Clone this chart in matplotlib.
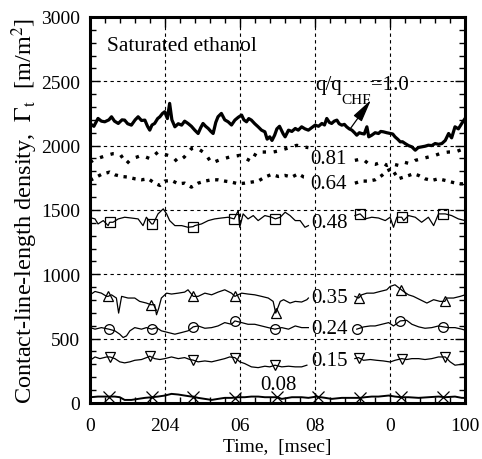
import numpy as np
import matplotlib
matplotlib.use("Agg")
import matplotlib.pyplot as plt
from matplotlib.ticker import MultipleLocator

plt.rcParams['font.family'] = ['Liberation Serif', 'DejaVu Serif']
plt.rcParams['mathtext.fontset'] = 'stix'

# ---- data (time in msec, contact-line-length density in m/m^2) ----
t_100 = [0, 1, 2.1, 3, 3.9, 5, 5.7, 6.5, 7.5, 8.5, 9.2, 10, 11, 12, 12.8, 13.7, 14.6, 15.3, 15.9,
         16.5, 17.2, 18, 18.6, 19.3, 19.9, 20.6, 21.2, 21.8, 22.6, 23.5, 24.4, 25.2, 26.1, 27,
         27.9, 28.8, 29.5, 30.1, 30.8, 31.5, 32.2, 32.8, 33.5, 34.1, 35, 35.9, 36.8, 37.7, 38.6,
         39.5, 40.4, 41, 41.7, 42.3, 43, 43.9, 44.8, 45.7, 46.6, 47.2, 47.9, 48.5, 49.2, 49.8,
         50.5, 51.5, 52, 52.9, 53.8, 54.7, 55.5, 56.4, 57.3, 58.2, 59.1, 60, 60.9, 61.8, 62.5,
         63.1, 63.8, 64.4, 65.1, 65.8, 66.4, 67.1, 67.8, 68.4, 69.1, 69.8, 70.5, 71.1, 71.8,
         72.4, 73.1, 73.8, 74.3, 75.1, 76, 76.9, 77.5, 78.2, 79.1, 80, 80.7, 81.3, 82, 82.7,
         83.3, 84, 84.9, 85.8, 86.7, 87.5, 88.4, 89.3, 90.2, 91.1, 92, 92.9, 93.8, 94.7, 95.6,
         96.4, 97.3, 98.2, 99.1, 100]
g_100 = [2170, 2150, 2211, 2190, 2185, 2200, 2224, 2190, 2172, 2200, 2198, 2170, 2159, 2200, 2224,
         2195, 2198, 2150, 2120, 2160, 2172, 2210, 2224, 2250, 2263, 2210, 2328, 2200, 2146, 2170,
         2159, 2190, 2172, 2150, 2120, 2094, 2140, 2172, 2150, 2133, 2110, 2094, 2180, 2224, 2250,
         2200, 2185, 2160, 2198, 2220, 2237, 2200, 2185, 2210, 2198, 2170, 2146, 2120, 2107, 2050,
         2068, 2040, 2081, 2130, 2150, 2090, 2068, 2120, 2110, 2133, 2120, 2146, 2130, 2120, 2140,
         2159, 2150, 2172, 2160, 2211, 2180, 2172, 2190, 2198, 2170, 2159, 2165, 2146, 2130, 2120,
         2100, 2081, 2100, 2094, 2090, 2146, 2068, 2081, 2100, 2094, 2110, 2107, 2100, 2094, 2090,
         2068, 2050, 2029, 2030, 2016, 2000, 1990, 1964, 1985, 1990, 1995, 2003, 2000, 2016, 2010,
         2016, 2040, 2094, 2060, 2146, 2130, 2172, 2211]

t_81 = [0, 0.8, 2.5, 4.4, 6.1, 7.9, 9.7, 11, 12.4, 13.7, 16, 18.1, 19.9, 22.1, 23.3, 25.1, 27,
        28.4, 30.1, 31, 32.4, 34.6, 37.2, 39.9, 43, 44.4, 46.6, 48.8, 50.2, 53.8, 55.1, 56.9,
        58.2, 63, 70.6, 72.6, 74.2, 76, 77.8, 79.1, 80.4, 82.2, 83.6, 85.3, 86.7, 88.4, 90.2,
        92, 93.8, 95.6, 97.3, 99.1, 100]
g_81 = [1870, 1886, 1905, 1924, 1937, 1937, 1859, 1898, 1910, 1924, 1898, 1950, 1932, 1911, 1872,
        1911, 1976, 1984, 1950, 1924, 1864, 1890, 1911, 1924, 1877, 1950, 1950, 1950, 1958, 1990,
        2002, 1990, 1984, np.nan, 1885, 1898, 1859, 1854, 1872, 1846, 1859, 1846, 1872, 1859, 1885,
        1898, 1911, 1924, 1943, 1950, 1950, 1969, 1976]

t_64 = [0, 0.8, 3, 5.2, 6.6, 8.4, 10.1, 11.9, 13.7, 15.5, 17.2, 18.6, 19.9, 21.7, 23.5, 25.2, 27,
        28.8, 30.6, 32.4, 34.1, 35.9, 37.7, 39.5, 41.2, 43, 44.8, 46.6, 48.4, 50.2, 52, 53.8,
        55.5, 57, 58.3, 63, 70.6, 72.4, 74.2, 76, 77.8, 79.1, 80.4, 82.2, 83.6, 85, 86.2, 87.6,
        89.3, 91.1, 92.9, 94.7, 96.4, 98.2, 100]
g_64 = [1730, 1742, 1776, 1794, 1773, 1760, 1755, 1742, 1734, 1742, 1708, 1690, 1724, 1729, 1703,
        1708, 1677, 1708, 1724, 1734, 1734, 1724, 1716, 1703, 1708, 1716, 1724, 1755, 1776, 1760,
        1768, 1755, 1781, 1755, 1750, np.nan, 1708, 1724, 1724, 1734, 1768, 1802, 1820, 1742, 1755,
        1768, 1781, 1768, 1742, 1729, 1742, 1729, 1716, 1703, 1703]

t_48 = [0, 1.3, 2.1, 3.5, 4.8, 5.2, 6.1, 7.5, 9.2, 11, 12.8, 14.1, 15, 16.4, 16.8, 18.1, 19.5,
        20.4, 21.2, 22.6, 24.4, 26.1, 27.5, 27.9, 29.7, 31.5, 33.2, 35, 36.8, 38.4, 39.5, 39.9,
        40.8, 42.1, 43.5, 44.8, 46.6, 48.4, 49.4, 50.7, 52, 53.3, 54.7, 56, 57.3, 58.2, 64, 70.6,
        72, 73.3, 75.1, 76.9, 78.7, 80, 80.9, 81.8, 83.1, 83.6, 84.9, 86.7, 88.4, 90.2, 91.6,
        92.9, 94.2, 94.7, 96.4, 98.2, 100]
g_48 = [1440, 1430, 1391, 1417, 1378, 1404, 1404, 1430, 1443, 1437, 1430, 1378, 1443, 1391, 1391,
        1469, 1508, 1469, 1417, 1378, 1378, 1365, 1370, 1378, 1391, 1417, 1430, 1437, 1443, 1430,
        1495, 1365, 1469, 1430, 1456, 1417, 1456, 1443, 1430, 1443, 1482, 1456, 1417, 1417, 1365,
        1378, np.nan, 1456, 1469, 1430, 1443, 1437, 1417, 1443, 1365, 1443, 1443, 1417, 1456, 1443,
        1404, 1443, 1378, 1469, 1469, 1469, 1456, 1430, 1417]

t_35 = [0, 1.3, 3, 4.4, 4.8, 5.7, 7, 7.6, 8.4, 10.1, 11.9, 13.2, 15, 16.2, 17.2, 17.7, 18.3, 19,
        20.4, 21.7, 23.5, 25.2, 26.1, 27.5, 28.8, 30.6, 32.4, 34.1, 35.9, 37.7, 38.6, 40.4, 42.1,
        43.9, 45.7, 47.5, 48.8, 49.5, 50.7, 51.6, 53.3, 54.7, 56.4, 57.8, 58.2, 64, 70.6, 71.6,
        72.4, 73.8, 75.6, 77.3, 79.1, 80, 81.3, 83, 83.6, 84.9, 86.2, 88, 89.8, 91.6, 93.3, 94.6,
        95.1, 96.9, 98.7, 100]
g_35 = [840, 866, 853, 828, 828, 840, 815, 698, 828, 815, 815, 789, 776, 763, 763, 685, 737, 815,
        853, 846, 853, 861, 879, 828, 828, 853, 840, 861, 879, 853, 828, 853, 846, 840, 828, 815,
        789, 698, 789, 802, 776, 789, 784, 802, 815, np.nan, 828, 815, 840, 853, 853, 866, 879,
        905, 918, 879, 866, 840, 828, 802, 776, 802, 789, 789, 815, 815, 828, 840]

t_24 = [0, 1.3, 3, 5, 6.6, 7.9, 8.8, 9.7, 10.6, 11.9, 13.7, 15, 16.4, 17.7, 19, 20.8, 22.6, 24.4,
        26.1, 27.5, 28.8, 30.6, 32.4, 34.1, 35.9, 37.7, 38.6, 40.4, 42.1, 43.9, 45.7, 47.5, 49.3,
        51.1, 52.9, 54.7, 56.4, 58.2, 64, 71.1, 73, 74.7, 76, 77.8, 79.6, 80.9, 82.7, 84.4, 85.8,
        87.6, 89.3, 91.1, 92.9, 94.2, 95.6, 97.3, 99.1, 100]
g_24 = [585, 573, 585, 573, 560, 534, 508, 521, 560, 585, 573, 585, 573, 585, 560, 547, 534, 547,
        560, 591, 598, 580, 585, 598, 624, 611, 637, 624, 611, 611, 598, 585, 573, 585, 573, 598,
        585, 585, np.nan, 573, 591, 598, 598, 611, 624, 598, 637, 642, 611, 591, 580, 585, 598,
        591, 585, 585, 573, 565]

t_15 = [0, 1.3, 2.6, 4.4, 5.3, 6.6, 7.9, 9.2, 10.6, 11.9, 13.7, 15.5, 15.9, 17.2, 18.6, 19.9, 21.7,
        23.5, 25.2, 26.6, 27.5, 28.8, 30.6, 32.4, 34.1, 35.9, 37.2, 38.6, 39.9, 41.2, 43, 44.8,
        46.6, 47.9, 49.3, 51.1, 52.9, 54.7, 56.4, 57.8, 64, 70.6, 71.6, 72.9, 74.7, 76.4, 78.2,
        80, 81.3, 83.1, 84.4, 85.8, 87.6, 89.3, 91.1, 92.9, 94.7, 96, 97.3, 99.1, 100]
g_15 = [331, 357, 344, 357, 357, 344, 319, 311, 319, 331, 337, 357, 363, 344, 337, 344, 357, 344,
        352, 337, 332, 319, 326, 319, 331, 344, 357, 352, 319, 306, 280, 274, 285, 280, 293, 280,
        285, 280, 280, 293, np.nan, 344, 352, 331, 337, 331, 326, 318, 331, 344, 337, 344, 344,
        337, 344, 357, 357, 319, 293, 300, 306]

t_08 = [0, 2.1, 4.8, 5, 6.6, 7.9, 9.2, 11, 12.8, 14.6, 16.4, 18.1, 19.9, 21.7, 23.5, 25.2, 27,
        27.5, 28.8, 30.6, 32.4, 34.1, 35.9, 37.7, 38.6, 39.5, 41.2, 43, 44.8, 46.6, 48.4, 49.9,
        51.1, 53.8, 56.4, 58.2, 60.4, 60.8, 62.7, 64.4, 67.1, 69.8, 72, 73.3, 75.1, 76.9, 79.6,
        81.3, 83, 84.9, 87.6, 90.2, 92.9, 94, 94.7, 97.3, 99.1, 100]
g_08 = [44, 49, 49, 49, 49, 44, 23, 23, 31, 39, 44, 49, 57, 70, 65, 57, 49, 49, 39, 31, 23, 31,
        39, 39, 41, 44, 44, 49, 49, 44, 44, 44, 31, 44, 44, 39, 49, 47, 39, 31, 39, 39, 39, 44,
        49, 49, 57, 49, 44, 44, 39, 44, 49, 46, 44, 49, 39, 39]

# marker times for the open-symbol series
mk_48 = [5.2, 16.4, 27.5, 38.4, 49.4, 72, 83.1, 94.2]
mk_35 = [4.8, 16.2, 27.5, 38.6, 49.5, 71.6, 83, 94.6]
mk_24 = [5, 16.4, 27.5, 38.6, 49.3, 71.1, 82.7, 94.2]
mk_15 = [5.3, 15.9, 27.5, 38.6, 49.3, 71.6, 83.1, 94.7]
mk_08 = [5, 16.4, 27.5, 38.6, 49.9, 60.8, 72, 83, 94]

# series labels: text, x, y
labels = [('0.81', 58.7, 1898), ('0.64', 58.7, 1703), ('0.48', 59.0, 1405),
          ('0.35', 59.0, 821), ('0.24', 59.0, 582), ('0.15', 59.0, 328), ('0.08', 45.3, 140)]

xtick_pos = [0, 20, 40, 60, 80, 100]
xtick_lab = ['0', '204', '06', '08', '0', '100']
ytick_pos = [0, 500, 1000, 1500, 2000, 2500, 3000]


def idx(t, marks):
    t = np.asarray(t)
    return [int(np.argmin(np.abs(t - m))) for m in marks]


fig = plt.figure(figsize=(4.82, 4.60), dpi=100)
ax = fig.add_axes([0.187, 0.122, 0.778, 0.839])

ax.plot(t_100, g_100, color='k', lw=2.3)
ax.plot(t_81, g_81, color='k', lw=2.4, linestyle=(0, (1, 2.3)))
ax.plot(t_64, g_64, color='k', lw=2.4, linestyle=(0, (1, 1.7)))
ax.plot(t_48, g_48, color='k', lw=0.9, marker='s', ms=7, mfc='none', mew=0.9,
        markevery=idx(t_48, mk_48))
ax.plot(t_35, g_35, color='k', lw=0.9, marker='^', ms=7, mfc='none', mew=0.9,
        markevery=idx(t_35, mk_35))
ax.plot(t_24, g_24, color='k', lw=0.9, marker='o', ms=7, mfc='none', mew=0.9,
        markevery=idx(t_24, mk_24))
ax.plot(t_15, g_15, color='k', lw=0.9, marker='v', ms=7, mfc='none', mew=0.9,
        markevery=idx(t_15, mk_15))
ax.plot(t_08, g_08, color='k', lw=1.4, marker='x', ms=8, mew=0.9,
        markevery=idx(t_08, mk_08))

for txt, x, y in labels:
    ax.text(x, y, txt, fontsize=15, va='center', ha='left')

ax.text(4.5, 2776, 'Saturated ethanol', fontsize=15.5, va='center', ha='left')
ax.text(60, 2440, 'q/q', fontsize=15, va='baseline', ha='left')
ax.text(67.0, 2330, 'CHF', fontsize=11, va='baseline', ha='left')
ax.text(75.0, 2440, '=1.0', fontsize=15, va='baseline', ha='left')
ax.annotate('', xy=(74.9, 2355), xytext=(69.3, 2128),
            arrowprops=dict(arrowstyle='-|>,head_length=1.0,head_width=0.22',
                            color='k', lw=0.9, mutation_scale=14, shrinkA=0, shrinkB=0))

ax.set_xlim(0, 100)
ax.set_ylim(0, 3000)
ax.set_xticks(xtick_pos)
ax.set_xticklabels(xtick_lab)
ax.set_yticks(ytick_pos)
ax.xaxis.set_minor_locator(MultipleLocator(4))
ax.yaxis.set_minor_locator(MultipleLocator(100))
ax.tick_params(which='both', direction='in', top=True, right=True, labelsize=14, width=1)
ax.tick_params(which='major', length=7, pad=7)
ax.tick_params(axis='x', which='major', pad=10)
ax.tick_params(which='minor', length=4)
for s in ax.spines.values():
    s.set_linewidth(2.2)

ax.grid(True, which='major', color='k', lw=0.8, linestyle=(0, (3, 3)))

ax.set_xlabel('Time,  [msec]', fontsize=14, labelpad=3)
ax.set_ylabel(r'Contact-line-length density,  $\Gamma_{\mathrm{t}}$  [m/m$^2$]', fontsize=17.5,
              labelpad=1)

fig.savefig('out.png', dpi=100)
